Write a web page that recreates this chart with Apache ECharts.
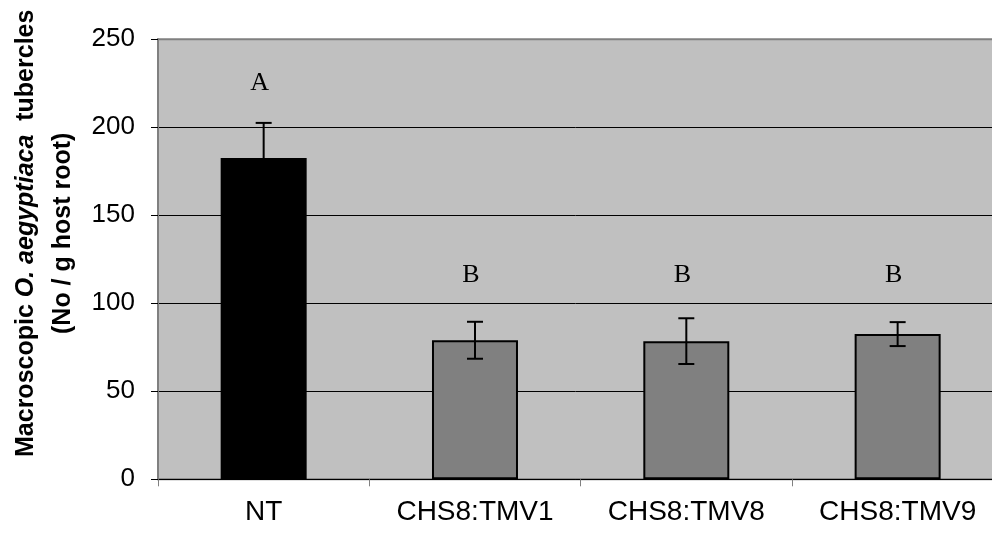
<!DOCTYPE html>
<html>
<head>
<meta charset="utf-8">
<script src="https://cdn.jsdelivr.net/npm/echarts@6/dist/echarts.min.js"></script>
<style>
html,body{margin:0;padding:0;background:#fff;overflow:hidden;}
#chart{width:992px;height:533px;}
</style>
</head>
<body>
<div id="chart"></div>
<script>
var categories = ['NT', 'CHS8:TMV1', 'CHS8:TMV8', 'CHS8:TMV9'];
var means = [182.5, 79, 78.5, 82.5];
var errors = [20, 10.5, 13, 6.8];
var letters = ['A', 'B', 'B', 'B'];
var letterValues = [225, 116, 116, 116];
var yTicks = [0, 50, 100, 150, 200, 250];

var chart = echarts.init(document.getElementById('chart'));

var barData = means.map(function (v, i) {
  return {
    value: v,
    itemStyle: i === 0
      ? { color: '#000000', borderColor: '#000000', borderWidth: 0 }
      : { color: '#808080', borderColor: '#000000', borderWidth: 2 }
  };
});

var option = {
  animation: false,
  grid: {
    left: 158, top: 39.3, height: 440, width: 845.3,
    outerBoundsMode: 'none',
    containLabel: false,
    show: true, backgroundColor: '#C0C0C0', borderColor: '#808080', borderWidth: 2
  },
  xAxis: {
    type: 'category',
    data: categories,
    boundaryGap: true,
    axisLine: { show: true, lineStyle: { color: '#000', width: 1 } },
    axisTick: { show: true, length: 7, lineStyle: { color: '#808080', width: 1 } },
    axisLabel: { color: '#000', fontFamily: 'Liberation Sans', fontSize: 28, margin: 19 },
    splitLine: { show: false }
  },
  yAxis: {
    type: 'value',
    min: yTicks[0], max: yTicks[yTicks.length - 1], interval: 50,
    axisLine: { show: true, lineStyle: { color: '#808080', width: 2 } },
    axisTick: { show: true, length: 7, lineStyle: { color: '#000', width: 1 } },
    axisLabel: { color: '#000', fontFamily: 'Liberation Sans', fontSize: 26, margin: 23 },
    splitLine: { show: true, lineStyle: { color: ['#000', '#000', '#000', '#000', '#000', '#808080'], width: 1 } },
    name: '{b|Macroscopic }{i|O. aegyptiaca}{b|  tubercles}\n{b|(No / g host root)}',
    nameLocation: 'middle',
    nameRotate: 90,
    nameGap: 76,
    nameTextStyle: {
      align: 'center',
      padding: [0, 0, 0, 52],
      rich: {
        b: { fontFamily: 'Liberation Sans', fontWeight: 'bold', fontSize: 25, color: '#000', lineHeight: 37 },
        i: { fontFamily: 'Liberation Sans', fontWeight: 'bold', fontStyle: 'italic', fontSize: 25, color: '#000', lineHeight: 37 }
      }
    }
  },
  series: [
    {
      type: 'bar',
      data: barData,
      barWidth: 86,
      z: 2
    },
    {
      type: 'custom',
      z: 5,
      data: means.map(function (m, i) { return [i, m, errors[i]]; }),
      renderItem: function (params, api) {
        var i = api.value(0), m = api.value(1), e = api.value(2);
        var top = api.coord([i, m + e]);
        var bot = api.coord([i, m - e]);
        var hw = 8;
        var style = { stroke: '#000', lineWidth: 2 };
        return {
          type: 'group',
          children: [
            { type: 'line', shape: { x1: top[0], y1: top[1], x2: bot[0], y2: bot[1] }, style: style },
            { type: 'line', shape: { x1: top[0] - hw, y1: top[1], x2: top[0] + hw, y2: top[1] }, style: style },
            { type: 'line', shape: { x1: bot[0] - hw, y1: bot[1], x2: bot[0] + hw, y2: bot[1] }, style: style }
          ]
        };
      }
    },
    {
      type: 'custom',
      z: 6,
      data: letterValues.map(function (v, i) { return [i, v, letters[i]]; }),
      renderItem: function (params, api) {
        var p = api.coord([api.value(0), api.value(1)]);
        return {
          type: 'text',
          x: -4,
          style: {
            x: p[0], y: p[1], text: letters[params.dataIndex],
            fill: '#000', font: '26px "Liberation Serif"',
            textAlign: 'center', textVerticalAlign: 'middle'
          }
        };
      }
    }
  ]
};
chart.setOption(option);
</script>
</body>
</html>
